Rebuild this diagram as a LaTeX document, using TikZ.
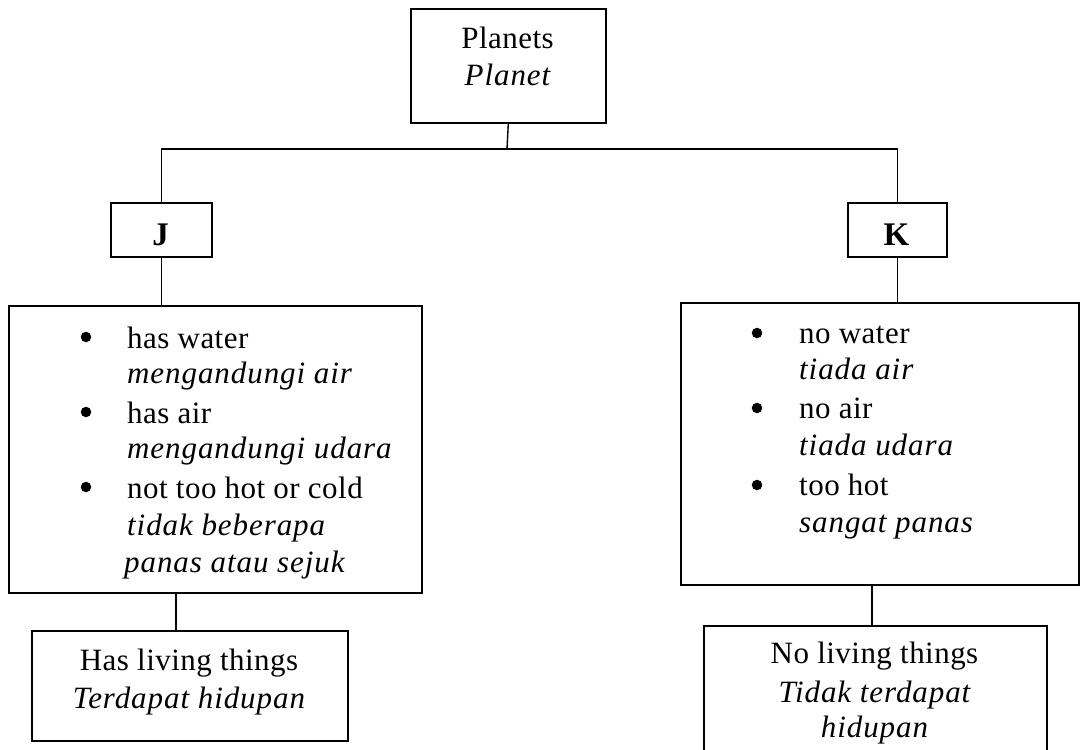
\documentclass[tikz,border=0pt]{standalone}
\usepackage{fontspec}
\setmainfont[LetterSpace=1.5]{Liberation Serif}
\newcommand{\itl}{\itshape\addfontfeature{LetterSpace=3}}
\begin{document}
\begin{tikzpicture}[x=1pt,y=-1pt,
  box/.style={draw, line width=1.6pt, rectangle, inner sep=0pt, anchor=north west},
  conn/.style={line width=1.4pt},
  txt/.style={inner sep=0pt, anchor=base west, font=\fontsize{31}{37}\selectfont},
  ctxt/.style={inner sep=0pt, anchor=base, font=\fontsize{31}{37}\selectfont},
  bul/.style={circle, fill=black, inner sep=0pt, minimum size=10.5pt}]
\clip (0,0) rectangle (1080,750);
\fill[white] (0,0) rectangle (1080,750);
% boxes
\node[box, minimum width=195pt, minimum height=114pt] (P) at (410,8) {};
\node[box, minimum width=101pt, minimum height=54pt] (J) at (110,202) {};
\node[box, minimum width=99pt, minimum height=54pt] (K) at (847,202) {};
\node[box, minimum width=413pt, minimum height=287pt] (LB) at (8,305) {};
\node[box, minimum width=398pt, minimum height=282pt] (RB) at (680,302) {};
\node[box, minimum width=316pt, minimum height=110pt] (BL) at (31,630) {};
\node[box, minimum width=343pt, minimum height=140pt] (BR) at (703,625) {};
% connectors
\coordinate (bar) at (507,149);
\coordinate (lc) at (176,0);
\coordinate (rc) at (872,0);
\draw[conn] (P.south) -- (bar);
\draw[conn] (J.north) |- (bar);
\draw[conn] (K.north) |- (bar);
\draw[conn] (J.south) -- (J.south |- LB.north);
\draw[conn] (K.south) -- (K.south |- RB.north);
\draw[conn] (lc |- LB.south) -- (lc |- BL.north);
\draw[conn] (rc |- RB.south) -- (rc |- BR.north);
% top texts
\node[ctxt] (p1) at (507.5,48) {Planets};
\node[ctxt] (p2) at (507.5,85) {\itl Planet};
\node[ctxt, font=\fontsize{33}{37}\selectfont\bfseries] (jt) at (160.5,245) {J};
\node[ctxt, font=\fontsize{33}{37}\selectfont\bfseries] (kt) at (896.5,245) {K};
% left list
\node[bul] (lb1) at (86,337) {};
\node[bul] (lb2) at (86,412) {};
\node[bul] (lb3) at (86,487) {};
\node[txt] (l1) at (127,348) {has water};
\node[txt] (l2) at (127,383) {\itl mengandungi air};
\node[txt] (l3) at (127,423) {has air};
\node[txt] (l4) at (127,458) {\itl mengandungi udara};
\node[txt] (l5) at (127,498) {not too hot or cold};
\node[txt] (l6) at (127,535) {\itl tidak beberapa};
\node[txt] (l7) at (124,572) {\itl panas atau sejuk};
% right list
\node[bul] (rb1) at (757,333) {};
\node[bul] (rb2) at (757,408) {};
\node[bul] (rb3) at (757,485) {};
\node[txt] (r1) at (799,343) {no water};
\node[txt] (r2) at (799,379) {\itl tiada air};
\node[txt] (r3) at (799,418) {no air};
\node[txt] (r4) at (799,455) {\itl tiada udara};
\node[txt] (r5) at (799,495) {too hot};
\node[txt] (r6) at (799,532) {\itl sangat panas};
% bottom texts
\node[ctxt] (bl1) at (189,670) {Has living things};
\node[ctxt] (bl2) at (189,708) {\itl Terdapat hidupan};
\node[ctxt] (br1) at (874.5,663) {No living things};
\node[ctxt] (br2) at (874.5,702) {\itl Tidak terdapat};
\node[ctxt] (br3) at (874.5,737) {\itl hidupan};
\end{tikzpicture}
\end{document}
